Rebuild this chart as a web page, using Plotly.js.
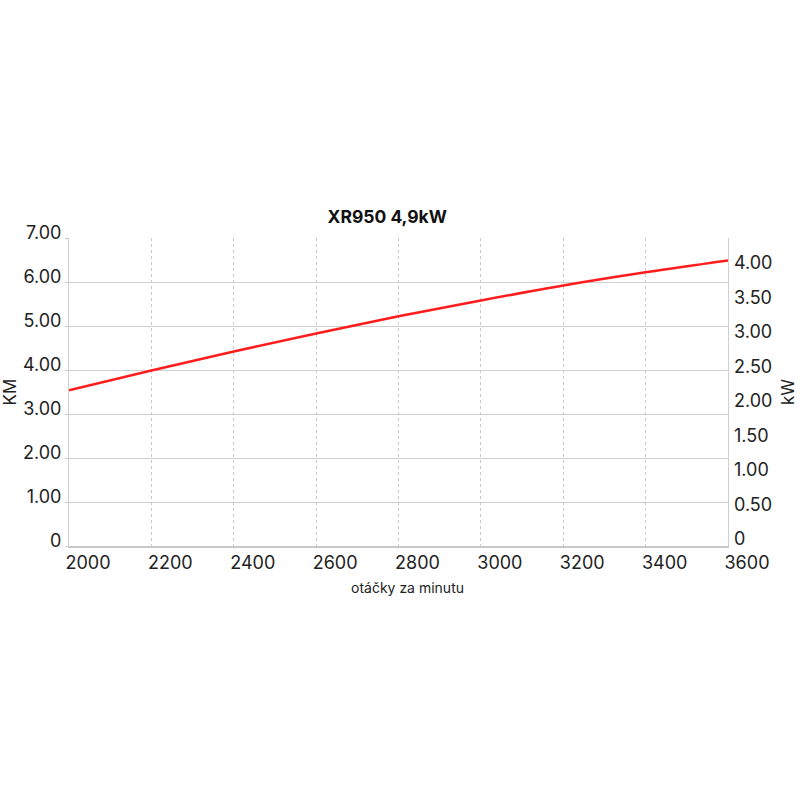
<!DOCTYPE html>
<html>
<head>
<meta charset="utf-8">
<script src="https://cdn.plot.ly/plotly-3.0.1.min.js"></script>
<style>
  html, body { margin: 0; padding: 0; background: #fff; }
  #chart { width: 800px; height: 800px; }
</style>
</head>
<body>
<div id="chart"></div>
<script>
// otacky (rpm) and vykon v KM
var rpm = [2000, 2200, 2400, 2600, 2800, 3000, 3200, 3400, 3600]
var power_km = [3.54, 3.99, 4.42, 4.83, 5.22, 5.58, 5.92, 6.22, 6.49]

var km_ticks = [0, 1, 2, 3, 4, 5, 6, 7]
var km_labels = ["0", "1.00", "2.00", "3.00", "4.00", "5.00", "6.00", "7.00"]
var kw_ticks = [0, 0.5, 1, 1.5, 2, 2.5, 3, 3.5, 4]
var kw_labels = ["0", "0.50", "1.00", "1.50", "2.00", "2.50", "3.00", "3.50", "4.00"]
var rpm_ticks = [2000, 2200, 2400, 2600, 2800, 3000, 3200, 3400, 3600]

var font_name = "Inter, 'Noto Sans', sans-serif"
var grid_color = "#cfcfcf"

var traces = [{
    x: rpm,
    y: power_km,
    type: "scatter",
    mode: "lines",
    line: {color: "rgb(255,28,28)", width: 2.5, shape: "spline", smoothing: 1},
    hoverinfo: "skip",
    showlegend: false
}, {
    // empty trace so the kW axis gets drawn
    x: [rpm[0]],
    y: [null],
    yaxis: "y2",
    type: "scatter",
    mode: "lines",
    showlegend: false,
    hoverinfo: "skip"
}]

var layout = {
    width: 800,
    height: 800,
    paper_bgcolor: "#fff",
    plot_bgcolor: "#fff",
    margin: {l: 69, r: 72, t: 238, b: 254},
    font: {family: font_name, color: "#222", size: 18},
    title: {
        text: "<b>XR950 4,9kW</b>",
        font: {family: font_name, size: 17.5, color: "#111"},
        x: 0.484, xanchor: "center",
        y: 0.729, yanchor: "middle"
    },
    xaxis: {
        range: [2000, 3600],
        tickvals: rpm_ticks,
        ticktext: rpm_ticks.map(String),
        showgrid: true,
        gridcolor: "#c8c8c8",
        griddash: "dot",
        gridwidth: 1,
        zeroline: false,
        showline: true,
        linecolor: "#c8c8c8",
        linewidth: 2,
        ticks: "",
        ticklabelstandoff: -1,
        ticklabelshift: 19,
        tickfont: {size: 18}
    },
    yaxis: {
        range: [0, 7],
        tickvals: km_ticks,
        ticktext: km_labels,
        showgrid: true,
        gridcolor: grid_color,
        gridwidth: 1,
        zeroline: false,
        showline: true,
        linecolor: grid_color,
        linewidth: 1,
        mirror: true,
        ticks: "outside",
        ticklen: 3,
        tickcolor: grid_color,
        ticklabelshift: -5,
        ticklabelstandoff: 0,
        tickfont: {size: 18},
        title: {text: "KM", font: {size: 17}, standoff: 2}
    },
    yaxis2: {
        overlaying: "y",
        side: "right",
        range: [0, 4.46],
        tickvals: kw_ticks,
        ticktext: kw_labels,
        showgrid: false,
        zeroline: false,
        showline: false,
        ticks: "",
        ticklabelshift: -7,
        ticklabelstandoff: 5,
        tickfont: {size: 18},
        title: {text: "kW", font: {size: 17}, standoff: 10}
    },
    annotations: [{
        // x axis title, set off centre as in the original
        text: "otáčky za minutu",
        xref: "paper", yref: "paper",
        x: 0.514, y: -0.136,
        xanchor: "center", yanchor: "middle",
        showarrow: false,
        font: {size: 14, color: "#222"}
    }]
}

Plotly.newPlot("chart", traces, layout, {displayModeBar: false, staticPlot: true})
</script>
</body>
</html>
